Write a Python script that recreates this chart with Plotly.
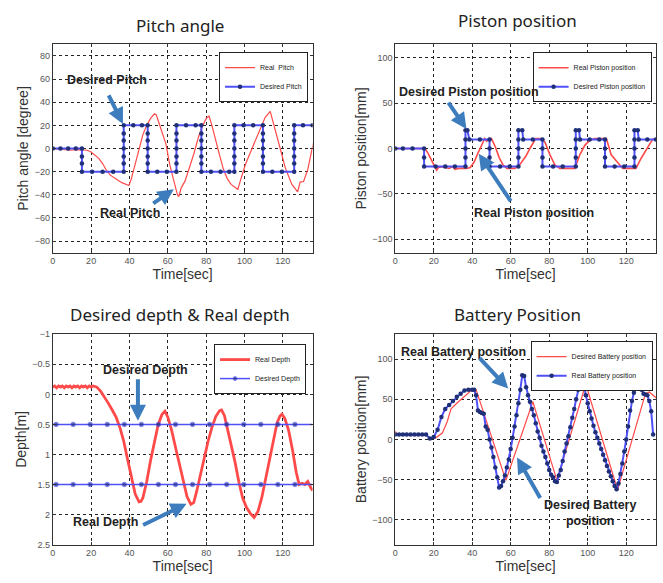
import plotly.graph_objects as go

W, H = 663, 583

# ---------------- Panel 1: Pitch angle ----------------
pitch_real_t = [0, 3, 6, 9, 12, 15, 18, 20, 22, 24, 26, 28, 30, 32, 34, 36, 38, 39.7, 41, 43, 45, 47, 49, 51, 53, 54,
                55, 57, 59, 61, 63, 65, 65.7, 67, 69, 71, 73.5, 76, 78, 80, 81.5, 83, 85, 87, 89, 91, 93, 95, 96.5,
                97.8, 100.4, 103.9, 107.4, 110.8, 113.4, 116, 118.6, 121.3, 124.7, 127.7, 129, 130.8, 133, 135, 136]
pitch_real_v = [0, -0.5, -1.5, -1.5, -1, -1, -1.5, -3, -6, -8.5, -13, -19, -23, -25.5, -27.5, -29.5, -31, -32, -26, -13,
                1, 12, 20, 26, 30, 29, 24, 14, 4, -14, -27, -40, -41.5, -34, -28, -18, -5, 10, 19, 26, 28, 20, 6, -6,
                -18, -26, -31, -34, -35.5, -28, -14, 0, 14, 27, 32, 17, 0, -17, -31, -37.5, -29, -28.5, -18, -2, 5]
pitch_des_t = [0, 4, 8, 12, 15.2, 15.2, 15.2, 15.2, 20.5, 26, 31.5, 37, 37, 37, 37, 37, 37, 37, 42, 46.5,
               49.5, 49.5, 49.5, 49.5, 49.5, 49.5, 49.5, 54.5, 59.5, 64.5, 64.5, 64.5, 64.5, 64.5, 64.5, 64.5,
               69.5, 74.5, 77.5, 77.5, 77.5, 77.5, 77.5, 77.5, 77.5, 82.5, 87.5, 92, 94.7, 94.7, 94.7, 94.7, 94.7,
               94.7, 94.7, 99.5, 104.5, 109.6, 109.6, 109.6, 109.6, 109.6, 109.6, 109.6, 114.5, 119.5, 125.9,
               125.9, 125.9, 125.9, 125.9, 125.9, 125.9, 130.5, 135.5]
pitch_des_v = [0, 0, 0, 0, 0, -7, -13, -20, -20, -20, -20, -20, -13, -7, 0, 7, 13, 20, 20, 20,
               20, 13, 7, 0, -7, -13, -20, -20, -20, -20, -13, -7, 0, 7, 13, 20,
               20, 20, 20, 13, 7, 0, -7, -13, -20, -20, -20, -20, -20, -13, -7, 0, 7,
               13, 20, 20, 20, 20, 13, 7, 0, -7, -13, -20, -20, -20, -20,
               -13, -7, 0, 7, 13, 20, 20, 20]

# ---------------- Panel 2: Piston position ----------------
piston_real_t = [0, 15.5, 17, 18.5, 20, 21.5, 22.5, 24, 26, 28, 30, 31, 33, 35, 37, 39, 41, 43, 45, 46.5, 47.5, 49,
                 50, 52, 54, 56, 58, 60, 62, 64, 66, 68, 70, 71, 72, 73, 76, 77.8, 80.4, 82.9, 85.5, 89, 93.3, 95.9,
                 98.5, 101, 103.6, 106, 109.7, 112.2, 113.9, 116.5, 118.2, 122, 125.1, 127.7, 131.1, 133.7, 135.5]
piston_real_v = [0, 0, -5, -11, -18, -24, -21, -20, -21, -22, -20, -23, -22, -22, -22, -21, -15, -5, 5, 11, 8, 11,
                 11, 2, -10, -18, -22, -22, -22, -20, -14, -8, 0, 4, 8, 11, 11, 7, -7, -18, -22, -22, -22, -7,
                 3.5, 9, 11, 11, 11, -7, -11, -18, -22, -22, -22, -11, 1.6, 10, 11]
piston_des_t = [0, 4, 9, 15, 15, 15, 21, 26, 31, 36.5, 36.5, 36.5, 36.5, 36.5, 37.5, 38.5, 44, 49, 49, 49, 49,
                54.5, 59.5, 64, 64, 64, 64, 64, 66, 66.5, 71.5, 76.5, 76.5, 76.5, 76.5, 82, 87, 93.8, 93.8, 93.8,
                93.8, 93.8, 95.5, 96, 101, 106, 109, 109, 109, 109, 114, 119, 124.3, 124.3, 124.3, 124.3, 124.3,
                126, 126.5, 131, 135.5]
piston_des_v = [0, 0, 0, 0, -10, -20, -20, -20, -20, -20, -10, 0, 10, 20, 20, 10, 10, 10, 0, -10, -20,
                -20, -20, -20, -10, 0, 10, 20, 20, 10, 10, 10, 0, -10, -20, -20, -20, -20, -10, 0,
                10, 20, 20, 10, 10, 10, 10, 0, -10, -20, -20, -20, -20, -10, 0, 10, 20,
                20, 10, 10, 10]

# ---------------- Panel 3: Depth ----------------
depth_real_t = [0, 1, 2, 3, 4, 5, 6, 7, 8, 9, 10, 11, 12, 13, 14, 15, 16, 17, 18, 19, 20, 21, 22, 23, 25, 27, 29,
                31, 33, 35, 37, 39, 41, 43, 45, 46, 47, 49, 51, 53, 55, 57, 58.5, 60, 62, 64, 66, 68, 70, 72,
                73.5, 75, 77, 79, 81, 83, 85, 87, 88, 89.5, 91, 93, 95, 97, 99, 101, 103, 105, 107, 109, 111,
                113, 115, 117, 118.5, 119.5, 121, 123, 125, 127, 128.5, 130, 131.5, 133, 134.5, 135.5]
depth_real_v = [-0.12, -0.14, -0.11, -0.14, -0.12, -0.14, -0.11, -0.14, -0.12, -0.14, -0.11, -0.14, -0.12, -0.14,
                -0.11, -0.14, -0.12, -0.14, -0.11, -0.14, -0.12, -0.14, -0.13, -0.12, -0.05, 0.04, 0.15, 0.26,
                0.38, 0.55, 0.78, 1.08, 1.4, 1.66, 1.79, 1.78, 1.72, 1.45, 1.1, 0.77, 0.5, 0.33, 0.28, 0.38,
                0.6, 0.88, 1.16, 1.45, 1.7, 1.83, 1.8, 1.62, 1.33, 1.05, 0.78, 0.55, 0.37, 0.27, 0.26, 0.35,
                0.55, 0.82, 1.12, 1.45, 1.72, 1.88, 1.98, 2.05, 1.95, 1.72, 1.4, 1.05, 0.75, 0.47, 0.36, 0.33,
                0.4, 0.6, 0.92, 1.3, 1.5, 1.48, 1.5, 1.45, 1.55, 1.6]
depth_des_t = [0, 1.7, 10.6, 19.5, 28.4, 37.3, 46.2, 55.1, 64.0, 72.9, 81.8, 90.7, 99.6, 108.5, 117.4, 126.3, 135.5]
depth_des_upper = [0.5] * 17
depth_des_lower = [1.5] * 17

# ---------------- Panel 4: Battery position ----------------
batt_des_t = [0, 1.5, 16, 18.5, 21, 24.5, 27, 29, 32, 35, 38, 40, 42, 57.5, 71.5, 84, 99, 115.5, 130, 132, 135.5]
batt_des_v = [10, 5, 5, 1, 2, 8, 22, 38, 45, 51, 57, 62, 62, -51, 47, -51, 69, -63, 57, 59, 52]
batt_real_t = [0, 2, 4, 6, 8, 10, 12, 14, 16, 18, 20, 22, 24, 26, 28, 30, 32, 34, 36, 38,
               40, 41, 42, 43, 44, 45, 46, 47, 48, 49, 50, 51, 52, 53, 54, 55, 56, 57, 58, 59,
               60, 61, 62, 63, 64, 65, 66, 67, 68, 69, 70, 71, 72, 73, 74, 75, 76, 77, 78, 79,
               80, 81, 82, 83, 84, 85, 86, 87, 88, 89, 90, 91, 92, 93, 94, 95, 96, 97, 98, 99,
               100, 101, 102, 103, 104, 105, 106, 107, 108, 109, 110, 111, 112, 113, 114, 115, 116, 117, 118, 119,
               120, 121, 122, 123, 124, 125, 126, 127, 128, 129, 130, 131, 132, 133, 134]
batt_real_v = [6, 6, 6, 6, 6, 6, 6, 6, 6, 1, 3, 12, 28, 38, 43, 48, 53, 57, 61, 62,
               62, 62, 55, 36, 34, 33, 32, 16, 12, 0, -10, -22, -35, -47, -60, -58, -52, -45, -35, -25,
               -12, 2, 16, 30, 45, 62, 80, 79, 65, 55, 47, 38, 30, 20, 10, 2, -8, -15, -22, -30,
               -38, -44, -47, -52, -53, -45, -38, -27, -15, -5, 4, 15, 27, 38, 50, 62, 70, 70, 70, 55,
               45, 35, 26, 17, 9, 2, -5, -12, -19, -26, -33, -40, -46, -52, -58, -62, -55, -43, -30, -15,
               0, 16, 36, 48, 58, 66, 72, 70, 62, 57, 56, 55, 48, 35, 6]

# ---------------- styles ----------------
RED = "#ff4a4a"
BLUE_LINE = "#5050f8"
BLUE_MK = "#1f2f78"
ARROW = "#3d7dbd"
FONT = "Liberation Sans"
TITLE_FONT = "Noto Sans"

fig = go.Figure()

def des_trace(x, y, name, xa, ya, leg, sizes=None, show=True, lw=2):
    return go.Scatter(x=x, y=y, name=name, mode="lines+markers", xaxis=xa, yaxis=ya, legend=leg,
                      showlegend=show,
                      line=dict(color=BLUE_LINE, width=lw),
                      marker=dict(color=BLUE_MK, size=sizes if sizes is not None else 4.5))

def red_trace(x, y, name, xa, ya, leg, lw=1.2):
    return go.Scatter(x=x, y=y, name=name, mode="lines", xaxis=xa, yaxis=ya, legend=leg,
                      line=dict(color=RED, width=lw))

# Panel 1
fig.add_trace(red_trace(pitch_real_t, pitch_real_v, "Real  Pitch", "x", "y", "legend"))
fig.add_trace(des_trace(pitch_des_t, pitch_des_v, "Desired Pitch", "x", "y", "legend"))
# Panel 2
fig.add_trace(red_trace(piston_real_t, piston_real_v, "Real Piston position", "x2", "y2", "legend2", lw=1.6))
fig.add_trace(des_trace(piston_des_t, piston_des_v, "Desired Piston position", "x2", "y2", "legend2"))
# Panel 3
dsz = [0] + [4.5] * (len(depth_des_t) - 2) + [0]
fig.add_trace(red_trace(depth_real_t, depth_real_v, "Real Depth", "x3", "y3", "legend3", lw=2.8))
fig.add_trace(des_trace(depth_des_t, depth_des_upper, "Desired Depth", "x3", "y3", "legend3", sizes=dsz, lw=1.5))
fig.add_trace(des_trace(depth_des_t, depth_des_lower, "Desired Depth", "x3", "y3", "legend3", sizes=dsz,
                        show=False, lw=1.5))
# Panel 4
fig.add_trace(red_trace(batt_des_t, batt_des_v, "Desired Battery position", "x4", "y4", "legend4"))
fig.add_trace(des_trace(batt_real_t, batt_real_v, "Real Battery position", "x4", "y4", "legend4"))

xl = [50 / W, 311 / W]
xr = [394 / W, 656 / W]
yt = [1 - 252 / H, 1 - 40 / H]
yb = [1 - 549 / H, 1 - 335 / H]

def ax(domain, rng, dtick, title, anchor, standoff=2, **kw):
    return dict(domain=domain, range=rng, dtick=dtick, anchor=anchor, tick0=0,
                showline=True, linecolor="#333", linewidth=1, mirror="ticks",
                ticks="inside", ticklen=3, tickcolor="#333",
                showgrid=True, gridcolor="#222", griddash="dot", gridwidth=1, zeroline=False,
                tickfont=dict(size=9, color="#555", family=FONT),
                title=dict(text=title, font=dict(size=14, color="#333", family=FONT), standoff=standoff),
                **kw)

XR = [0, 135.5]
fig.update_layout(
    width=W, height=H, margin=dict(l=0, r=0, t=0, b=0),
    paper_bgcolor="white", plot_bgcolor="white",
    font=dict(family=FONT),
    xaxis=ax(xl, XR, 20, "Time[sec]", "y"),
    yaxis=ax(yt, [-90, 90], 20, "Pitch angle [degree]", "x"),
    xaxis2=ax(xr, XR, 20, "Time[sec]", "y2"),
    yaxis2=ax(yt, [-115, 115], 50, "Piston position[mm]", "x2"),
    xaxis3=ax(xl, XR, 20, "Time[sec]", "y3"),
    yaxis3=ax(yb, [2.5, -1.0], 0.5, "Depth[m]", "x3"),
    xaxis4=ax(xr, XR, 20, "Time[sec]", "y4"),
    yaxis4=ax(yb, [-131, 131], 50, "Battery position[mm]", "x4"),
)

def leg(x, y):
    return dict(x=x / W, y=1 - y / H, xanchor="left", yanchor="top", bgcolor="white",
                bordercolor="#222", borderwidth=1, font=dict(size=7, color="#222", family=FONT),
                tracegroupgap=0, itemwidth=30)

fig.update_layout(legend=leg(217, 48), legend2=leg(532, 48), legend3=leg(212, 345), legend4=leg(530, 342))

anns = []
for txt, x, y in [("Pitch angle", 178, 21), ("Piston position", 517, 16),
                  ("Desired depth &amp; Real depth", 178, 315), ("Battery Position", 517, 315)]:
    anns.append(dict(text=txt, x=x / W, y=1 - y / H, xref="paper", yref="paper", showarrow=False,
                     xanchor="center", yanchor="middle", font=dict(size=17, color="#222", family=TITLE_FONT)))

# labels (data coords)
labels = [
    ("Desired Pitch", "x", "y", 28.4, 59),
    ("Real Pitch", "x", "y", 40.4, -56),
    ("Desired Piston position", "x2", "y2", 38.2, 62),
    ("Real Piston position", "x2", "y2", 72.1, -71),
    ("Desired Depth", "x3", "y3", 48.5, -0.40),
    ("Real Depth", "x3", "y3", 27.5, 2.12),
    ("Real Battery position", "x4", "y4", 35.3, 109),
    ("Desired Battery<br>position", "x4", "y4", 101.3, -92),
]
for txt, xa, ya, x, y in labels:
    anns.append(dict(text="<b>%s</b>" % txt, x=x, y=y, xref=xa, yref=ya, showarrow=False,
                     xanchor="center", yanchor="middle", align="center",
                     font=dict(size=12.5, color="#222", family=FONT)))

arrows = [
    ("x", "y", 36.6, 21.2, -15, -30),
    ("x", "y", 63.1, -35.3, -22, 15),
    ("x2", "y2", 37.0, 21.5, -19, -28),
    ("x2", "y2", 43.4, -5.7, 33, 49),
    ("x3", "y3", 44.4, 0.44, 0, -43),
    ("x3", "y3", 69.8, 1.82, -45, 22),
    ("x4", "y4", 58.7, 63.3, -30, -32),
    ("x4", "y4", 63.3, -22.4, 24, 42),
]
for xa, ya, x, y, axp, ayp in arrows:
    anns.append(dict(text="", x=x, y=y, xref=xa, yref=ya, ax=axp, ay=ayp, showarrow=True,
                     arrowhead=2, arrowsize=0.8, arrowwidth=4, arrowcolor=ARROW, standoff=0))

fig.update_layout(annotations=anns)
fig.write_html("out.html")
